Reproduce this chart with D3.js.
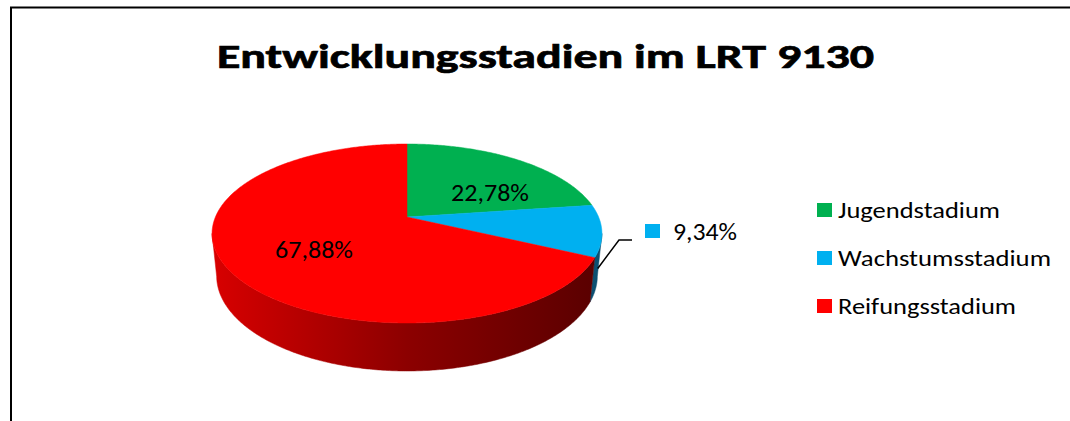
<!DOCTYPE html>
<html><head><meta charset="utf-8">
<script src="https://cdn.jsdelivr.net/npm/d3@7"></script>
<style>html,body{margin:0;padding:0;background:#fff;} svg{display:block;}</style>
</head><body>
<script>
// ---- data ----
const categories = ["Jugendstadium", "Wachstumsstadium", "Reifungsstadium"];
const values = [22.78, 9.34, 67.88];
const valueLabels = ["22,78%", "9,34%", "67,88%"];
const colors = ["#00b050", "#00b0f0", "#ff0000"];
const titleText = "Entwicklungsstadien im LRT 9130";

// ---- layout ----
const W = 1070, H = 421;
const FONT = "Carlito, Calibri, Lato, sans-serif";
const svg = d3.select("body").append("svg").attr("width", W).attr("height", H);
svg.append("rect").attr("width", W).attr("height", H).attr("fill", "#fff");
svg.append("path").attr("d", "M11,421 V7.5 H1070").attr("fill", "none")
  .attr("stroke", "#000").attr("stroke-width", 2);

// text helper: size by cap height, stretch to target width
function txt(g, s, x, y, size, width, weight) {
  const t = g.append("text").attr("x", x).attr("y", y)
    .attr("font-family", FONT).attr("font-size", size)
    .attr("font-weight", weight || "normal").attr("fill", "#000").text(s);
  if (width) t.attr("textLength", width).attr("lengthAdjust", "spacingAndGlyphs");
  return t;
}

txt(svg, titleText, 217, 68, 35, 657, "bold").attr("stroke", "#000").attr("stroke-width", 0.7);

// ---- 3D projection ----
const P = {cx: 407, cy: 217, S: 191.6, D: 4.842, phi: Math.asin(0.4512), h: 0.25};
const sp = Math.sin(P.phi), cp = Math.cos(P.phi);
function proj(theta, r, Y) {
  const X = r * Math.sin(theta), Z = -r * Math.cos(theta);
  const v = Z * sp - Y * cp;
  const dep = P.D - Z * cp - Y * sp;
  const k = P.S * P.D / dep;
  return [P.cx + X * k, P.cy + v * k];
}
const thetaS = Math.acos(-cp / P.D);           // silhouette angle (front visible range)
const visLo = thetaS, visHi = 2 * Math.PI - thetaS;

const pie = d3.pie().sort(null).value(d => d).startAngle(0).endAngle(2 * Math.PI);
const arcs = pie(values);

function arcPts(a0, a1, r, Y) {
  const n = Math.max(2, Math.ceil(Math.abs(a1 - a0) / 0.01));
  return d3.range(n + 1).map(i => proj(a0 + (a1 - a0) * i / n, r, Y));
}

// gradients for walls
const defs = svg.append("defs");
const xL = P.cx - 195, xR = P.cx + 195;
const wallStops = [
  [["0", "#009a45"], ["0.5", "#006a30"], ["1", "#00401c"]],
  [["0", "#0090c8"], ["0.5", "#006b98"], ["1", "#0d4f70"]],
  [["0", "#d80000"], ["0.5", "#8c0000"], ["1", "#580000"]]
];
wallStops.forEach((st, i) => {
  const g = defs.append("linearGradient").attr("id", "wall" + i)
    .attr("gradientUnits", "userSpaceOnUse")
    .attr("x1", xL).attr("x2", xR).attr("y1", 0).attr("y2", 0);
  st.forEach(s => g.append("stop").attr("offset", s[0]).attr("stop-color", s[1]));
});

const line = d3.line();
const gPie = svg.append("g");
// walls
arcs.forEach((a, i) => {
  const a0 = Math.max(a.startAngle, visLo), a1 = Math.min(a.endAngle, visHi);
  if (a1 <= a0) return;
  const top = arcPts(a0, a1, 1, 0);
  const bot = arcPts(a1, a0, 1, -P.h);
  gPie.append("path").attr("d", line(top.concat(bot)) + "Z")
    .attr("fill", `url(#wall${i})`).attr("stroke", `url(#wall${i})`).attr("stroke-width", 0.5);
});
// top faces
arcs.forEach((a, i) => {
  const pts = [proj(0, 0, 0)].concat(arcPts(a.startAngle, a.endAngle, 1, 0));
  gPie.append("path").attr("d", line(pts) + "Z")
    .attr("fill", colors[i]).attr("stroke", colors[i]).attr("stroke-width", 0.5);
});

// data labels inside
txt(svg, valueLabels[0], 451, 201, 24, 78);
txt(svg, valueLabels[2], 275, 258, 24, 78);

// outside label for small slice with leader line
const b = arcs[1];
const anc = proj((Math.max(b.startAngle, visLo) + b.endAngle) / 2, 1, -P.h * 0.52);
svg.append("path").attr("d", line([anc, [619, 240], [632, 240]]))
  .attr("fill", "none").attr("stroke", "#000").attr("stroke-width", 1.5);
svg.append("rect").attr("x", 645).attr("y", 224).attr("width", 15).attr("height", 14).attr("fill", colors[1]);
txt(svg, valueLabels[1], 673, 240, 24, 64);

// legend
const legY = [218, 266, 314];
const legW = [162, 213, 178];
categories.forEach((c, i) => {
  svg.append("rect").attr("x", 817).attr("y", legY[i] - 15).attr("width", 15).attr("height", 14)
    .attr("fill", colors[i]);
  txt(svg, c, 838, legY[i], 23, legW[i]);
});
</script>
</body></html>
